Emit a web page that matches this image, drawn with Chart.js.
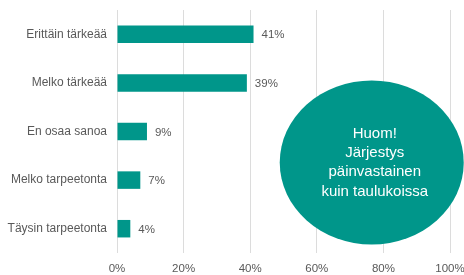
<!DOCTYPE html>
<html>
<head>
<meta charset="utf-8">
<script src="https://cdn.jsdelivr.net/npm/chart.js@4"></script>
<style>
  html, body { margin: 0; padding: 0; background: #fff; }
  #wrap { width: 464px; height: 275px; position: relative; }
</style>
</head>
<body>
<div id="wrap"><canvas id="chart"></canvas></div>
<script>
// Data
const categories = ['Erittäin tärkeää', 'Melko tärkeää', 'En osaa sanoa', 'Melko tarpeetonta', 'Täysin tarpeetonta'];
const shares = [41, 39, 9, 7, 4];
const xTicks = [0, 20, 40, 60, 80, 100];
const noteLines = ['Huom!', 'Järjestys', 'päinvastainen', 'kuin taulukoissa'];

const teal = '#00968a';
const textGray = '#595959';
const fontFamily = '"Liberation Sans", Arial, sans-serif';

// value labels right of the bars
const valueLabels = {
    id: 'valueLabels',
    afterDatasetsDraw(chart) {
        const ctx = chart.ctx;
        const meta = chart.getDatasetMeta(0);
        ctx.save();
        ctx.font = '11.5px ' + fontFamily;
        ctx.fillStyle = textGray;
        ctx.textBaseline = 'middle';
        meta.data.forEach((bar, i) => {
            ctx.fillText(shares[i] + '%', bar.x + 8, bar.y + 1);
        });
        ctx.restore();
    }
};

// the teal note ellipse
const noteBubble = {
    id: 'noteBubble',
    afterDraw(chart) {
        const ctx = chart.ctx;
        const x = chart.scales.x;
        const area = chart.chartArea;
        const cx = x.getPixelForValue(76.5);
        const cy = (area.top + area.bottom) / 2 + 31;
        ctx.save();
        ctx.fillStyle = teal;
        ctx.beginPath();
        ctx.ellipse(cx, cy, 92, 82, 0, 0, Math.PI * 2);
        ctx.fill();
        ctx.fillStyle = '#ffffff';
        ctx.font = '15px ' + fontFamily;
        ctx.textAlign = 'center';
        ctx.textBaseline = 'middle';
        const step = 19.3;
        const start = cy - step * (noteLines.length - 1) / 2;
        noteLines.forEach((line, i) => {
            ctx.fillText(line, cx + 3, start + i * step);
        });
        ctx.restore();
    }
};

new Chart(document.getElementById('chart'), {
    type: 'bar',
    data: {
        labels: categories,
        datasets: [{
            data: shares,
            backgroundColor: teal,
            borderWidth: 0,
            barPercentage: 0.36,
            categoryPercentage: 1
        }]
    },
    options: {
        indexAxis: 'y',
        responsive: true,
        maintainAspectRatio: false,
        animation: false,
        layout: { padding: { left: 0, right: 14, top: 10, bottom: 0 } },
        plugins: {
            legend: { display: false },
            tooltip: { enabled: false }
        },
        scales: {
            x: {
                min: 0,
                max: 100,
                afterBuildTicks(scale) {
                    scale.ticks = xTicks.map(v => ({ value: v }));
                },
                afterFit(scale) {
                    scale.height = 22;
                    scale.paddingLeft = 0;
                    scale.paddingRight = 0;
                },
                grid: { color: '#dcdcdc', drawTicks: false },
                border: { display: false },
                ticks: {
                    padding: 9,
                    color: textGray,
                    font: { family: fontFamily, size: 11.5 },
                    callback: v => v + '%'
                }
            },
            y: {
                afterFit(scale) {
                    scale.width = 117;
                    scale.paddingTop = 0;
                    scale.paddingBottom = 0;
                },
                grid: { display: false, drawTicks: false },
                border: { display: false },
                ticks: {
                    padding: 10,
                    color: textGray,
                    font: { family: fontFamily, size: 12 }
                }
            }
        }
    },
    plugins: [valueLabels, noteBubble]
});
</script>
</body>
</html>
